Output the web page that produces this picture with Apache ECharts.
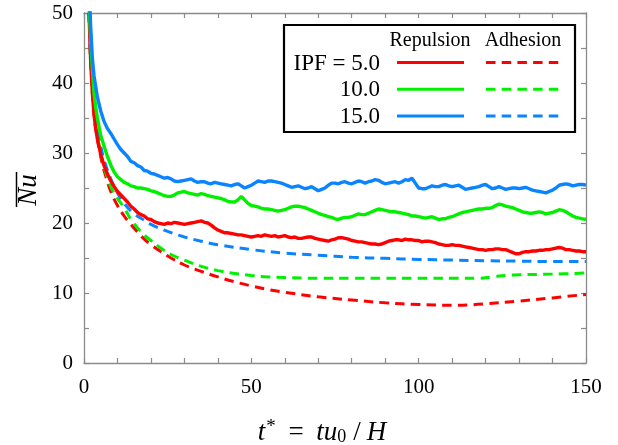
<!DOCTYPE html>
<html><head><meta charset="utf-8">
<script src="https://cdn.jsdelivr.net/npm/echarts@6/dist/echarts.min.js"></script>
<style>html,body{margin:0;padding:0;background:#fff}#c{width:618px;height:445px}</style>
</head><body><div id="c"></div>
<script>
// ---- data (t*, Nu) ----
const rep5 = [[1.5,50],[2,43],[2.5,38.5],[3,35.5],[3.5,33.5],[4,32],[5,29.8],[6,28.2],[7,27],[8,26],[9,25.2],[10,24.5],[11,24.0],[12,23.5],[13,23.0],[14,22.4],[15,22.0],[16,21.5],[17,21.2],[18,21.0],[19,20.6],[20,20.5],[21,20.2],[22,20.0],[23,19.9],[24,19.8],[25,20.0],[26,19.9],[27,20.1],[28,20.0],[29,19.9],[30,19.8],[31,19.9],[32,20.0],[33,20.1],[34,20.2],[35,20.3],[36,20.1],[37,20.0],[38,19.7],[39,19.3],[40,19.0],[41,18.8],[42,18.6],[43,18.6],[44,18.5],[45,18.4],[46,18.3],[47,18.3],[48,18.2],[49,18.1],[50,18.0],[51,18.1],[52,18.2],[53,18.1],[54,18.3],[55,18.2],[56,18.1],[57,18.2],[58,18.0],[59,18.1],[60,18.2],[61,18.0],[62,17.9],[63,18.0],[64,17.8],[65,17.8],[66,17.9],[67,18.0],[68,18.0],[69,17.8],[70,17.7],[71,17.6],[72,17.5],[73,17.4],[74,17.6],[75,17.7],[76,17.9],[77,17.9],[78,17.8],[79,17.7],[80,17.5],[81,17.4],[82,17.3],[83,17.3],[84,17.2],[85,17.1],[86,17.0],[87,17.0],[88,16.9],[89,17.0],[90,17.2],[91,17.4],[92,17.5],[93,17.6],[94,17.6],[95,17.5],[96,17.7],[97,17.6],[98,17.6],[99,17.5],[100,17.5],[101,17.3],[102,17.4],[103,17.4],[104,17.3],[105,17.2],[106,17.0],[107,16.9],[108,16.8],[109,16.8],[110,16.9],[111,16.8],[112,16.8],[113,16.7],[114,16.6],[115,16.5],[116,16.4],[117,16.3],[118,16.2],[119,16.2],[120,16.1],[121,16.2],[122,16.2],[123,16.3],[124,16.3],[125,16.2],[126,16.2],[127,16.0],[128,15.8],[129,15.6],[130,15.6],[131,15.8],[132,15.9],[133,15.9],[134,16.0],[135,16.0],[136,16.1],[137,16.1],[138,16.2],[139,16.2],[140,16.3],[141,16.4],[142,16.5],[143,16.4],[144,16.2],[145,16.2],[146,16.1],[147,16.0],[148,16.0],[149,15.9],[150,15.9]];
const rep10 = [[1.5,52],[2,46],[2.5,42],[3,38.5],[3.5,36.5],[4,35],[5,32.5],[6,31],[7,29.5],[8,28.3],[9,27.3],[10,26.6],[11,26.2],[12,25.8],[13,25.6],[14,25.3],[15,25.2],[16,25.0],[17,25.0],[18,24.9],[19,24.8],[20,24.6],[21,24.5],[22,24.3],[23,24.1],[24,23.9],[25,23.8],[26,23.8],[27,24.0],[28,24.3],[29,24.4],[30,24.5],[31,24.3],[32,24.2],[33,24.1],[34,24.0],[35,24.2],[36,24.1],[37,23.9],[38,23.8],[39,23.7],[40,23.6],[41,23.5],[42,23.3],[43,23.1],[44,23.0],[45,23.0],[46,23.3],[47,23.8],[48,23.3],[49,22.8],[50,22.5],[51,22.4],[52,22.3],[53,22.1],[54,22.0],[55,22.0],[56,21.9],[57,21.8],[58,21.7],[59,21.8],[60,21.9],[61,22.1],[62,22.3],[63,22.4],[64,22.4],[65,22.3],[66,22.2],[67,22.0],[68,21.8],[69,21.6],[70,21.4],[71,21.2],[72,21.1],[73,20.9],[74,20.8],[75,20.6],[76,20.5],[77,20.7],[78,20.8],[79,20.8],[80,20.9],[81,21.1],[82,21.3],[83,21.2],[84,21.2],[85,21.4],[86,21.6],[87,21.8],[88,22.0],[89,21.9],[90,21.8],[91,21.7],[92,21.6],[93,21.6],[94,21.5],[95,21.4],[96,21.3],[97,21.2],[98,21.0],[99,21.0],[100,20.9],[101,20.8],[102,20.7],[103,20.8],[104,20.9],[105,20.7],[106,20.5],[107,20.6],[108,20.6],[109,20.8],[110,20.9],[111,21.1],[112,21.3],[113,21.5],[114,21.6],[115,21.7],[116,21.8],[117,21.9],[118,22.0],[119,22.0],[120,22.1],[121,22.1],[122,22.2],[123,22.5],[124,22.7],[125,22.6],[126,22.4],[127,22.3],[128,22.2],[129,22.0],[130,21.8],[131,21.6],[132,21.5],[133,21.4],[134,21.4],[135,21.5],[136,21.6],[137,21.5],[138,21.3],[139,21.4],[140,21.5],[141,21.7],[142,21.9],[143,21.8],[144,21.6],[145,21.3],[146,21.0],[147,20.8],[148,20.7],[149,20.6],[150,20.5]];
const rep15 = [[1.5,54],[2,48],[2.5,43.5],[3,41],[3.5,39.5],[4,38],[5,36],[6,34.5],[7,33.5],[8,32.8],[9,32],[10,31.2],[11,30.5],[12,30],[13,29.5],[14,28.8],[15,28.6],[16,28.2],[17,28],[18,27.5],[19,27.4],[20,27.1],[21,27.0],[22,26.8],[23,26.6],[24,26.4],[25,26.5],[26,26.3],[27,26.0],[28,25.9],[29,26.0],[30,26.1],[31,26.2],[32,26.3],[33,26.0],[34,25.8],[35,25.9],[36,25.9],[37,25.7],[38,25.6],[39,25.8],[40,25.7],[41,25.6],[42,25.5],[43,25.4],[44,25.3],[45,25.5],[46,25.6],[47,25.3],[48,25.0],[49,25.2],[50,25.4],[51,25.7],[52,26.0],[53,25.9],[54,25.8],[55,26.0],[56,26.0],[57,25.9],[58,25.8],[59,25.7],[60,25.5],[61,25.3],[62,25.1],[63,25.2],[64,25.3],[65,25.1],[66,24.9],[67,25.0],[68,25.2],[69,24.9],[70,24.6],[71,24.8],[72,25.0],[73,25.4],[74,25.7],[75,25.7],[76,25.6],[77,25.8],[78,25.9],[79,25.7],[80,25.6],[81,25.8],[82,26.0],[83,25.9],[84,25.7],[85,25.9],[86,26.0],[87,26.2],[88,26.1],[89,25.8],[90,25.6],[91,25.7],[92,25.8],[93,25.9],[94,25.7],[95,25.9],[96,26.2],[97,26.1],[98,26.4],[99,25.7],[100,25.0],[101,24.9],[102,24.9],[103,25.1],[104,25.3],[105,25.2],[106,25.2],[107,25.4],[108,25.5],[109,25.3],[110,25.2],[111,25.3],[112,25.4],[113,25.1],[114,24.8],[115,24.9],[116,25.0],[117,25.1],[118,25.2],[119,25.4],[120,25.5],[121,25.2],[122,24.9],[123,25.0],[124,25.2],[125,25.0],[126,24.8],[127,24.9],[128,25.0],[129,25.0],[130,24.9],[131,25.0],[132,25.1],[133,24.9],[134,24.7],[135,24.6],[136,24.5],[137,24.4],[138,24.3],[139,24.5],[140,24.7],[141,25.0],[142,25.4],[143,25.5],[144,25.6],[145,25.5],[146,25.3],[147,25.4],[148,25.5],[149,25.5],[150,25.4]];
const adh5 = [[1.5,50],[2,43],[3,35.5],[4,32],[5,29.5],[6,27.5],[8,24.5],[10,22.5],[12,21],[14,19.8],[16,18.7],[18,17.7],[20,16.9],[23,15.9],[26,15.0],[30,14.0],[35,13.1],[40,12.3],[45,11.6],[50,11.0],[55,10.5],[60,10.1],[70,9.45],[80,9.0],[90,8.6],[100,8.35],[110,8.25],[115,8.3],[120,8.45],[130,8.85],[140,9.3],[150,9.8]];
const adh10 = [[1.5,50],[2,43],[3,36],[4,32.5],[5,30],[6,28],[8,25.2],[10,23.5],[12,22.2],[14,20.5],[16,19.3],[18,18.3],[20,17.5],[23,16.4],[26,15.5],[30,14.7],[35,13.8],[40,13.2],[45,12.8],[50,12.5],[55,12.3],[60,12.2],[70,12.1],[80,12.1],[90,12.1],[100,12.1],[110,12.1],[118,12.1],[122,12.3],[126,12.5],[130,12.6],[140,12.7],[150,12.85]];
const adh15 = [[1.5,51],[2,44],[3,37],[4,33.5],[5,31],[6,29],[8,26.3],[10,24.3],[12,22.8],[15,21.3],[18,20.4],[20,19.8],[25,18.8],[30,18.0],[35,17.4],[40,16.9],[50,16.2],[60,15.7],[70,15.4],[80,15.1],[90,14.95],[100,14.8],[110,14.7],[120,14.6],[130,14.55],[140,14.5],[150,14.5]];
const xLabels = [0, 50, 100, 150];
const yLabels = [0, 10, 20, 30, 40, 50];
const ipfLabels = ['IPF = 5.0', '10.0', '15.0'];
const colHeaders = ['Repulsion', 'Adhesion'];

const RED = '#ff0000', GREEN = '#00f000', BLUE = '#0a84ff';
const COLORS = [RED, GREEN, BLUE];
const FONT = 'Liberation Serif';
const AX = '#8a8a8a';
const DASH = [9.5, 6.2];

const chart = echarts.init(document.getElementById('c'), null, {renderer: 'canvas'});

function axisCommon(showLabel, labels, margin) {
  return {
    axisLine: {show: true, onZero: false, lineStyle: {color: AX, width: 1.3}},
    axisTick: {show: true, inside: true, length: 5, lineStyle: {color: AX, width: 1.2}},
    splitLine: {show: false},
    axisLabel: {
      show: showLabel, color: '#000', fontFamily: FONT, fontSize: 21, margin: margin || 8,
      formatter: v => labels.indexOf(v) >= 0 ? String(v) : ''
    }
  };
}

function solid(data, color, z) {
  return {type: 'line', data, showSymbol: false, symbol: 'none', z,
    lineStyle: {color, width: 3.4}, clip: true, animation: false};
}
function dashed(data, color, z) {
  return {type: 'line', data, showSymbol: false, symbol: 'none', smooth: 0.4, z,
    lineStyle: {color, width: 3, type: DASH}, clip: true, animation: false};
}

const legendGraphics = [];
legendGraphics.push({type: 'rect', shape: {x: 284, y: 25, width: 291, height: 107},
  style: {fill: '#fff', stroke: '#000', lineWidth: 2.2}, z: 100});
legendGraphics.push({type: 'text', x: 430, y: 41, style: {text: colHeaders[0], font: '20px "' + FONT + '"', fill: '#000', textAlign: 'center', textVerticalAlign: 'middle'}, z: 101});
legendGraphics.push({type: 'text', x: 523, y: 41, style: {text: colHeaders[1], font: '20px "' + FONT + '"', fill: '#000', textAlign: 'center', textVerticalAlign: 'middle'}, z: 101});
const rowY = [62.5, 89.3, 116];
ipfLabels.forEach((lab, i) => {
  legendGraphics.push({type: 'text', x: 380, y: rowY[i] + 1, style: {text: lab, font: '23px "' + FONT + '"', fill: '#000', textAlign: 'right', textVerticalAlign: 'middle'}, z: 101});
  legendGraphics.push({type: 'line', shape: {x1: 397, y1: rowY[i], x2: 464, y2: rowY[i]}, style: {stroke: COLORS[i], lineWidth: 3}, z: 101});
  legendGraphics.push({type: 'line', shape: {x1: 486, y1: rowY[i], x2: 559, y2: rowY[i]}, style: {stroke: COLORS[i], lineWidth: 3, lineDash: DASH}, z: 101});
});
// y-axis title: Nu with overline
legendGraphics.push({type: 'text', x: 29, y: 190, rotation: Math.PI / 2,
  style: {text: 'Nu', font: 'italic 27px "' + FONT + '"', fill: '#000', textAlign: 'center', textVerticalAlign: 'middle'}});
legendGraphics.push({type: 'line', shape: {x1: 16.5, y1: 172, x2: 16.5, y2: 207}, style: {stroke: '#000', lineWidth: 1.5}});

const option = {
  backgroundColor: '#fff',
  animation: false,
  grid: {left: 84, top: 13, width: 502, height: 350, containLabel: false, outerBoundsMode: 'none'},
  xAxis: [
    Object.assign({type: 'value', min: 0, max: 150, interval: 10, position: 'bottom',
      name: '{i|t}{s|*}{n| = }{i|tu}{b|0}{n|/}{i|H}', nameLocation: 'middle', nameGap: 55,
      nameTextStyle: {color: '#000', fontFamily: FONT, fontSize: 27, padding: [0, 26, 0, 0], rich: {
        i: {fontFamily: FONT, fontStyle: 'italic', fontSize: 27, color: '#000'},
        n: {fontFamily: FONT, fontSize: 27, color: '#000', padding: [0, 6, 0, 6]},
        s: {fontFamily: FONT, fontSize: 19, color: '#000', padding: [0, 0, 10, 1]},
        b: {fontFamily: FONT, fontSize: 18, color: '#000', padding: [10, 1, 0, 0]}
      }}}, axisCommon(true, xLabels, 14)),
    Object.assign({type: 'value', min: 0, max: 150, interval: 10, position: 'top'}, axisCommon(false, xLabels))
  ],
  yAxis: [
    Object.assign({type: 'value', min: 0, max: 50, interval: 5, position: 'left'}, axisCommon(true, yLabels, 11)),
    Object.assign({type: 'value', min: 0, max: 50, interval: 5, position: 'right'}, axisCommon(false, yLabels))
  ],
  series: [
    dashed(adh5, RED, 2),
    dashed(adh10, GREEN, 2),
    dashed(adh15, BLUE, 2),
    solid(rep5, RED, 3),
    solid(rep10, GREEN, 4),
    solid(rep15, BLUE, 5)
  ],
  graphic: legendGraphics
};
chart.setOption(option);
</script>
</body></html>
